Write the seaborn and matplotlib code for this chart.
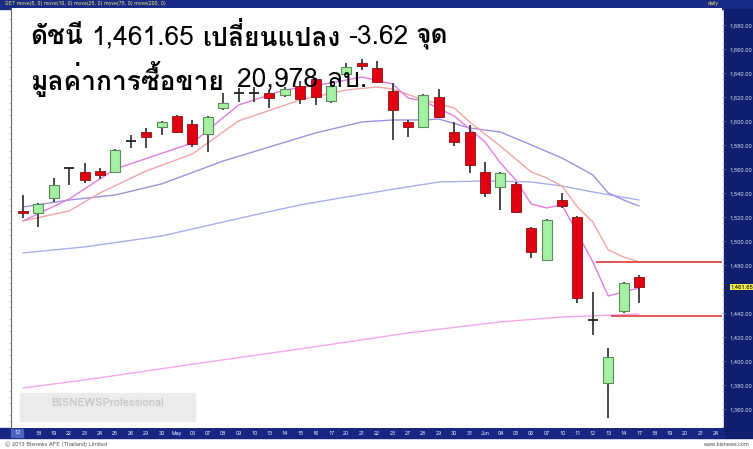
import numpy as np
import pandas as pd
import seaborn as sns
import matplotlib
matplotlib.use('Agg')
import matplotlib.pyplot as plt
from matplotlib import font_manager
from matplotlib.patches import Rectangle

# x-axis date labels (candles first, then the empty days to the right)
candle_labels = ['12', '18', '19', '22', '23', '24', '25', '26', '29', '30', 'May',
                 '03', '07', '08', '09', '10', '13', '14', '15', '16', '17', '20',
                 '21', '22', '23', '27', '28', '29', '30', '31', 'Jun', '04', '05',
                 '06', '07', '10', '11', '12', '13', '14', '17']
future_labels = ['18', '19', '20', '21', '24']

opens = [1525.0, 1523.3, 1535.8, 1560.8, 1557.5, 1558.3, 1557.5, 1583.3, 1590.8, 1595.0,
         1604.1, 1597.5, 1589.1, 1610.8, 1623.3, 1623.3, 1623.3, 1621.6, 1629.1, 1635.0,
         1616.6, 1639.1, 1648.3, 1644.1, 1625.0, 1599.1, 1595.0, 1620.0, 1590.8, 1590.8,
         1557.5, 1545.0, 1547.5, 1510.8, 1484.1, 1534.1, 1520.0, 1434.1, 1381.6, 1441.6,
         1470.0]
highs = [1538.3, 1531.6, 1552.5, 1560.8, 1565.0, 1560.8, 1576.6, 1588.3, 1594.1, 1600.0,
         1605.0, 1600.8, 1604.1, 1623.3, 1627.5, 1628.3, 1625.8, 1628.3, 1633.3, 1635.8,
         1631.6, 1648.3, 1651.6, 1650.0, 1631.6, 1600.8, 1622.5, 1626.6, 1599.1, 1596.6,
         1565.8, 1557.5, 1549.1, 1511.6, 1518.3, 1540.0, 1520.8, 1457.5, 1410.8, 1465.8,
         1471.6]
lows = [1519.1, 1511.6, 1532.5, 1546.6, 1548.3, 1551.6, 1556.6, 1577.5, 1577.5, 1588.3,
        1590.0, 1578.3, 1574.1, 1609.1, 1615.8, 1615.8, 1610.8, 1619.9, 1614.1, 1613.3,
        1615.0, 1638.3, 1642.5, 1631.6, 1584.1, 1586.6, 1595.0, 1602.5, 1579.1, 1556.6,
        1536.6, 1525.8, 1523.3, 1485.8, 1483.3, 1527.5, 1448.3, 1421.6, 1352.5, 1440.0,
        1448.3]
closes = [1523.3, 1530.8, 1546.6, 1560.8, 1550.8, 1555.0, 1575.8, 1583.3, 1586.6, 1599.1,
          1590.8, 1580.8, 1603.3, 1615.0, 1623.3, 1623.3, 1619.1, 1626.6, 1618.3, 1620.0,
          1629.1, 1645.0, 1645.8, 1632.5, 1609.1, 1595.0, 1621.6, 1603.3, 1582.5, 1563.3,
          1540.0, 1556.6, 1524.1, 1490.8, 1517.5, 1529.1, 1452.5, 1434.1, 1403.3, 1465.27,
          1461.65]

# moving average lines (candle index, value)
ma5_idx = [0, 3, 6, 11, 14, 17, 20, 22, 24, 25, 26, 28, 30, 31, 32, 33, 34, 35, 36, 37, 38, 39, 40]
ma5_val = [1516.6, 1535.0, 1560.0, 1581.6, 1613.3, 1625.8, 1631.6, 1636.6, 1630.8, 1619.1,
           1616.6, 1604.1, 1582.5, 1565.0, 1550.8, 1530.8, 1527.5, 1530.0, 1506.6, 1482.5,
           1454.1, 1457.5, 1460.8]
ma10_idx = [0, 3, 5, 8, 11, 14, 18, 21, 23, 24, 26, 28, 29, 31, 33, 34, 35, 36, 37, 38, 39, 40]
ma10_val = [1516.6, 1525.0, 1540.0, 1558.3, 1572.5, 1600.0, 1617.5, 1625.8, 1628.3, 1626.6,
            1617.5, 1610.8, 1599.1, 1579.0, 1557.5, 1552.5, 1545.8, 1528.3, 1515.8, 1492.5,
            1486.6, 1482.5]
ma25_idx = [0, 3, 6, 9, 13, 19, 22, 24, 26, 27, 29, 31, 33, 35, 37, 38, 39, 40]
ma25_val = [1528.3, 1534.1, 1538.3, 1547.5, 1566.6, 1590.0, 1599.1, 1600.8, 1600.8, 1601.6,
            1594.1, 1590.8, 1580.0, 1569.1, 1555.0, 1540.0, 1534.1, 1529.1]
ma75_idx = [0, 4, 9, 15, 18, 21, 24, 27, 30, 33, 35, 37, 40]
ma75_val = [1490.0, 1495.0, 1504.1, 1521.6, 1530.0, 1536.6, 1543.0, 1549.1, 1550.0, 1549.1,
            1545.8, 1540.8, 1534.1]
ma200_idx = [0, 4, 12, 18, 25, 31, 35, 40]
ma200_val = [1377.5, 1384.1, 1399.1, 1410.0, 1423.3, 1432.5, 1436.6, 1439.1]

# horizontal marker lines (start index, level)
hline_start = [37, 38]
hline_level = [1482.5, 1437.5]

last_close = 1461.65
ytick_vals = [1360, 1380, 1400, 1420, 1440, 1480, 1500, 1520, 1540, 1560, 1580,
              1600, 1620, 1640, 1660, 1680]

# title pieces: (text, weight, gap after in px)
title1 = [('ดัชนี', 'bold', 8), ('1,461.65', 'normal', 8), ('เปลี่ยนแปลง', 'bold', 8),
          ('-3.62', 'normal', 8), ('จุด', 'bold', 0)]
title2 = [('มูลค่าการซื้อขาย', 'bold', 13), ('20,978 ลบ.', 'normal', 0)]


def find_thai_font():
    try:
        from fontTools.ttLib import TTFont
    except ImportError:
        return None
    for f in font_manager.fontManager.ttflist:
        try:
            tt = TTFont(f.fname, fontNumber=0, lazy=True)
            cmap = tt.getBestCmap()
        except Exception:
            continue
        if cmap and 0x0E14 in cmap and 0x0E35 in cmap:
            return f.name
    return None


sns.set_style('white')
thai = find_thai_font()
fams = [thai, 'DejaVu Sans'] if thai else ['DejaVu Sans']
plt.rcParams['font.family'] = fams

W, H = 753, 449
navy = '#0f1f6e'
fig = plt.figure(figsize=(W / 100, H / 100), dpi=100)
fig.patch.set_facecolor('white')

# frame parts of the chart window
fig.patches.append(Rectangle((0, 1 - 9 / H), 1, 9 / H, transform=fig.transFigure,
                             color='#1a2b86', zorder=0))
fig.patches.append(Rectangle((724 / W, 1 - 438 / H), 1, 429 / H, transform=fig.transFigure,
                             color=navy, zorder=0))
fig.patches.append(Rectangle((0, 1 - 438 / H), 724 / W, 10 / H, transform=fig.transFigure,
                             color='#162682', zorder=0))
fig.patches.append(Rectangle((11 / W, 1 - 437 / H), 12 / W, 8 / H, transform=fig.transFigure,
                             color='#4a64c0', zorder=1))

ax = fig.add_axes([11 / W, 1 - 428 / H, (722 - 11) / W, 420 / H])
ax.set_zorder(2)
ax.set_facecolor('white')

n = len(opens)
body_w = 0.66
for i in range(n):
    o, hi, lo, c = opens[i], highs[i], lows[i], closes[i]
    ax.vlines(i, lo, hi, color='#3a3a3a', lw=1.3, zorder=3)
    if abs(c - o) < 0.05:
        ax.hlines(o, i - body_w / 2, i + body_w / 2, color='#222222', lw=1.3, zorder=4)
    elif c > o:
        ax.bar(i, c - o, bottom=o, width=body_w, color='#a4f0a4', edgecolor='#5c8c5c',
               lw=0.8, zorder=4)
    else:
        ax.bar(i, o - c, bottom=c, width=body_w, color='#e00012', edgecolor='#8a1010',
               lw=0.6, zorder=4)

ma = pd.concat([
    pd.DataFrame({'idx': ma200_idx, 'val': ma200_val, 'line': 'move(200)'}),
    pd.DataFrame({'idx': ma75_idx, 'val': ma75_val, 'line': 'move(75)'}),
    pd.DataFrame({'idx': ma25_idx, 'val': ma25_val, 'line': 'move(25)'}),
    pd.DataFrame({'idx': ma10_idx, 'val': ma10_val, 'line': 'move(10)'}),
    pd.DataFrame({'idx': ma5_idx, 'val': ma5_val, 'line': 'move(5)'}),
])
pal = {'move(5)': '#e27ce6', 'move(10)': '#f4a4a4', 'move(25)': '#a090e0',
       'move(75)': '#a6b0ee', 'move(200)': '#f4a6ee'}
sns.lineplot(data=ma, x='idx', y='val', hue='line', palette=pal, lw=1.0,
             legend=False, ax=ax, zorder=2, sort=False)

x_left, x_right = (11 - 23) / 15.4, (722 - 23) / 15.4
for s, lev in zip(hline_start, hline_level):
    ax.hlines(lev, s + 0.2, x_right, color='#e23a3a', lw=1.2, zorder=3)

ax.set_xlim(x_left, x_right)
ax.set_ylim(1344.1, 1694.1)
ax.set_xlabel('')
ax.set_ylabel('')

all_labels = [''] + candle_labels[1:] + future_labels
ax.set_xticks(np.arange(len(all_labels)))
ax.set_xticklabels(all_labels, fontsize=4, color='#e8ecff')
ax.tick_params(axis='x', length=0, pad=2.2)
fig.text(17 / W, 1 - 433 / H, candle_labels[0], fontsize=4, color='#e8ecff',
         ha='center', va='center', zorder=4)

ax.yaxis.tick_right()
ax.set_yticks(ytick_vals)
ax.set_yticklabels(['{:,.2f}'.format(v) for v in ytick_vals], fontsize=4.2, color='#c8d0ec')
ax.tick_params(axis='y', length=2, width=0.5, color='#888888', pad=3)
ax.set_yticks(np.arange(1350, 1690, 5), minor=True)
ax.tick_params(axis='y', which='minor', length=1.5, width=0.4, color='#999999',
               left=True, right=True)
for sp in ['top', 'bottom', 'right']:
    ax.spines[sp].set_visible(False)
ax.spines['left'].set_color('#666666')
ax.spines['left'].set_linewidth(0.8)

ax.text(1.012, last_close, '1,461.65', transform=ax.get_yaxis_transform(),
        fontsize=4.2, color='black', va='center', ha='left', zorder=6,
        bbox=dict(boxstyle='square,pad=0.15', fc='#f4f04a', ec='none'))

# watermark
fig.patches.append(Rectangle((20 / W, 1 - 421 / H), 175 / W, 28 / H, transform=fig.transFigure,
                             color='#ebebeb', zorder=5))
fig.text(107 / W, 1 - 403 / H, 'BISNEWSProfessional', fontsize=8, fontweight='bold',
         color='#c8c8c8', ha='center', va='center', zorder=6)

fig.text(5 / W, 1 - 4 / H, 'SET move(5, 0) move(10, 0) move(25, 0) move(75, 0) move(200, 0)',
         fontsize=3.8, color='#e8e070', va='center', ha='left')
fig.text(713 / W, 1 - 4 / H, 'daily', fontsize=3.8, color='#e8e070', va='center', ha='center')
fig.text(5 / W, 1 - 444 / H, '\u00a9 2013 Bisnews AFE (Thailand) Limited', fontsize=4,
         color='#555555', va='center')
fig.text(750 / W, 1 - 444 / H, 'www.bisnews.com', fontsize=4, color='#555555', va='center',
         ha='right')

# Thai headline, bold Thai words and plain numbers
renderer = fig.canvas.get_renderer()
for y_px, segs in [(37, title1), (79, title2)]:
    x_px = 30
    for txt, wt, gap in segs:
        t = fig.text(x_px / W, 1 - y_px / H, txt, fontsize=19, fontweight=wt,
                     color='black', va='center', ha='left', zorder=7)
        x_px += t.get_window_extent(renderer=renderer).width + gap

fig.savefig('out.png', dpi=100)
